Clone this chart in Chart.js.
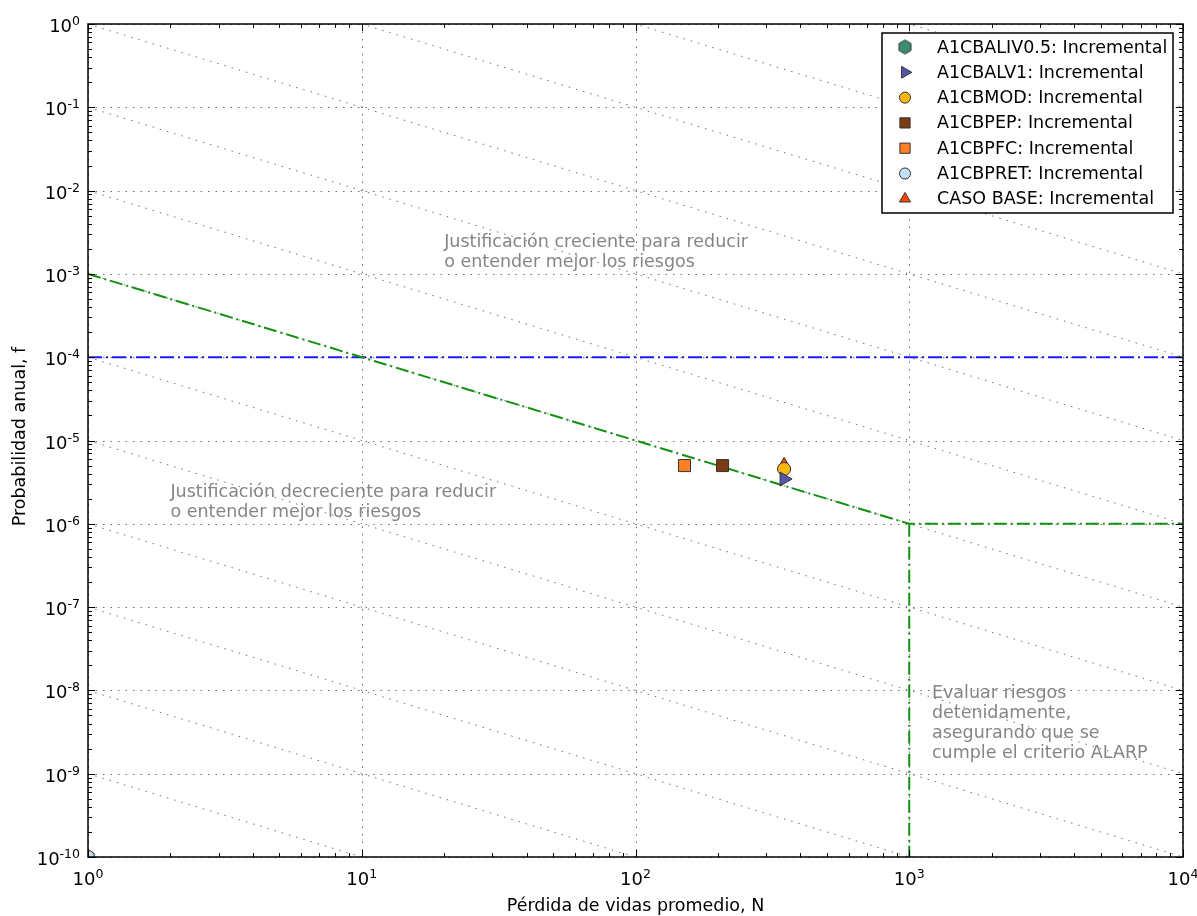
<!DOCTYPE html>
<html>
<head>
<meta charset="utf-8">
<script src="https://cdn.jsdelivr.net/npm/chart.js@4/dist/chart.umd.min.js"></script>
<style>
  html, body { margin: 0; padding: 0; background: #fff; }
</style>
</head>
<body>
<canvas id="fn_chart" width="1197" height="916"></canvas>
<script>
const FONT = "'DejaVu Sans', sans-serif";

// incremental results per alternative (N, f)
const seriesNames = [
  'A1CBALIV0.5: Incremental',
  'A1CBALV1: Incremental',
  'A1CBMOD: Incremental',
  'A1CBPEP: Incremental',
  'A1CBPFC: Incremental',
  'A1CBPRET: Incremental',
  'CASO BASE: Incremental'
];
const seriesN = [1, 349, 349, 208, 151, 1, 349];
const seriesF = [1e-10, 3.45e-6, 4.55e-6, 5e-6, 5e-6, 1e-10, 5.1e-6];
const seriesColors = ['#3c8c6e', '#5555aa', '#ffb60f', '#7b3c14', '#ff7f27', '#c6e0fa', '#ff4500'];
const seriesStyles = ['hexagon', 'triangle', 'circle', 'rect', 'rect', 'circle', 'triangle'];
const seriesRotation = [0, 90, 0, 0, 0, 0, 0];
const seriesRadius = [7, 8, 6.5, 8.5, 8.5, 6.5, 7.5];

// tolerability guidelines
const limitN = [1, 1000, 10000];
const limitF = [1e-3, 1e-6, 1e-6];
const alarpN = [1000, 1000];
const alarpF = [1e-6, 1e-10];
const bandN = [1, 10000];
const bandF = [1e-4, 1e-4];

// iso-risk lines f = C / N
const isoRisk = [1e-10, 1e-9, 1e-8, 1e-7, 1e-6, 1e-5, 1e-4, 1e-3, 1e-2, 1e-1, 1, 10, 100, 1000, 1e4];

// axes
const xTicks = [1, 10, 100, 1000, 10000];
const yTicks = [1, 1e-1, 1e-2, 1e-3, 1e-4, 1e-5, 1e-6, 1e-7, 1e-8, 1e-9, 1e-10];
const minorSteps = [2, 3, 4, 5, 6, 7, 8, 9];

const notes = [
  { n: 20, lines: ['Justificación creciente para reducir', 'o entender mejor los riesgos'], dy: 247 },
  { n: 2, lines: ['Justificación decreciente para reducir', 'o entender mejor los riesgos'], dy: 497 },
  { n: 1210, lines: ['Evaluar riesgos', 'detenidamente,', 'asegurando que se', 'cumple el criterio ALARP'], dy: 698 }
];

function hexagonMarker(fill, r) {
  const c = document.createElement('canvas');
  const s = Math.ceil(2 * r + 3);
  c.width = c.height = s;
  const g = c.getContext('2d');
  g.beginPath();
  for (let i = 0; i < 6; i++) {
    const a = -Math.PI / 2 + i * Math.PI / 3;
    const px = s / 2 + r * Math.cos(a), py = s / 2 + r * Math.sin(a);
    i ? g.lineTo(px, py) : g.moveTo(px, py);
  }
  g.closePath();
  g.fillStyle = fill;
  g.fill();
  g.lineWidth = 1;
  g.strokeStyle = '#333';
  g.stroke();
  return c;
}

const markerStyles = seriesStyles.map((s, i) => s === 'hexagon' ? hexagonMarker(seriesColors[i], seriesRadius[i]) : s);

const pointSets = seriesNames.map((name, i) => ({
  label: name,
  data: [{ x: seriesN[i], y: seriesF[i] }],
  pointStyle: markerStyles[i],
  rotation: seriesRotation[i],
  radius: seriesRadius[i],
  backgroundColor: seriesColors[i],
  borderColor: '#333',
  borderWidth: 1,
  clip: 0,
  order: i === 0 ? 5 : 0
}));

function guide(xs, ys, color, dash, width) {
  return {
    label: '',
    data: xs.map((v, i) => ({ x: v, y: ys[i] })),
    showLine: true,
    borderColor: color,
    borderWidth: width,
    borderDash: dash,
    pointRadius: 0,
    clip: 0,
    order: 10
  };
}

const lineSets = [
  guide(limitN, limitF, '#119011', [13, 4, 2, 4], 2),
  guide(alarpN, alarpF, '#119011', [13, 4, 2, 4], 2),
  guide(bandN, bandF, '#1a1aff', [14, 4, 2, 4], 2)
].concat(isoRisk.map(c => Object.assign(guide([1, 1e4], [c, c / 1e4], '#6f6f6f', [1.5, 6], 1), { order: 20 })));

function supLabel(ctx, exp, x, y, align) {
  const base = '10', sup = String(exp);
  ctx.font = '18px ' + FONT;
  const wb = ctx.measureText(base).width;
  ctx.font = '12.5px ' + FONT;
  const ws = ctx.measureText(sup).width;
  const left = align === 'right' ? x - wb - ws : x - (wb + ws) / 2;
  ctx.fillStyle = '#000';
  ctx.textAlign = 'left';
  ctx.textBaseline = 'alphabetic';
  ctx.font = '18px ' + FONT;
  ctx.fillText(base, left, y);
  ctx.font = '12.5px ' + FONT;
  ctx.fillText(sup, left + wb, y - 7);
}

const framePlugin = {
  id: 'frame',
  beforeDatasetsDraw(chart) {
    const { ctx, chartArea: a, scales: { x, y } } = chart;
    ctx.save();
    ctx.strokeStyle = '#6f6f6f';
    ctx.lineWidth = 1;
    ctx.setLineDash([1.5, 6]);
    ctx.beginPath();
    xTicks.forEach(v => {
      const px = Math.round(x.getPixelForValue(v)) + 0.5;
      ctx.moveTo(px, a.top); ctx.lineTo(px, a.bottom);
    });
    yTicks.forEach(v => {
      const py = Math.round(y.getPixelForValue(v)) + 0.5;
      ctx.moveTo(a.left, py); ctx.lineTo(a.right, py);
    });
    ctx.stroke();
    ctx.restore();
  },
  afterDraw(chart) {
    const { ctx, chartArea: a, scales: { x, y } } = chart;
    ctx.save();

    // text notes
    ctx.fillStyle = '#858585';
    ctx.font = '17.5px ' + FONT;
    ctx.textAlign = 'left';
    ctx.textBaseline = 'alphabetic';
    notes.forEach(n => {
      const px = x.getPixelForValue(n.n);
      n.lines.forEach((t, i) => ctx.fillText(t, px, n.dy + i * 20));
    });

    // ticks, inward on all four sides
    ctx.strokeStyle = '#000';
    ctx.lineWidth = 1;
    ctx.beginPath();
    xTicks.forEach((v, k) => {
      const steps = k < xTicks.length - 1 ? [1].concat(minorSteps) : [1];
      steps.forEach(m => {
        const px = Math.round(x.getPixelForValue(v * m)) + 0.5;
        const len = m === 1 ? 7 : 4;
        ctx.moveTo(px, a.bottom); ctx.lineTo(px, a.bottom - len);
        ctx.moveTo(px, a.top); ctx.lineTo(px, a.top + len);
      });
    });
    yTicks.forEach((v, k) => {
      const steps = k < yTicks.length - 1 ? [1].concat(minorSteps.map(m => m / 10)) : [1];
      steps.forEach(m => {
        const py = Math.round(y.getPixelForValue(v * m)) + 0.5;
        const len = m === 1 ? 7 : 4;
        ctx.moveTo(a.left, py); ctx.lineTo(a.left + len, py);
        ctx.moveTo(a.right, py); ctx.lineTo(a.right - len, py);
      });
    });
    ctx.stroke();

    // frame
    ctx.lineWidth = 1.5;
    ctx.strokeRect(a.left, a.top, a.right - a.left, a.bottom - a.top);

    // tick labels
    xTicks.forEach(v => supLabel(ctx, Math.round(Math.log10(v)), x.getPixelForValue(v), a.bottom + 28, 'center'));
    yTicks.forEach(v => supLabel(ctx, Math.round(Math.log10(v)), a.left - 8, y.getPixelForValue(v) + 8, 'right'));

    // axis titles
    ctx.fillStyle = '#000';
    ctx.font = '17.5px ' + FONT;
    ctx.textAlign = 'center';
    ctx.textBaseline = 'alphabetic';
    ctx.fillText('Pérdida de vidas promedio, N', (a.left + a.right) / 2, 911);
    ctx.save();
    ctx.translate(25, (a.top + a.bottom) / 2 - 4);
    ctx.rotate(-Math.PI / 2);
    ctx.fillText('Probabilidad anual, f', 0, 0);
    ctx.restore();

    // legend
    const lx = 882, ly = 33, lw = 291, lh = 180;
    ctx.fillStyle = '#fff';
    ctx.fillRect(lx, ly, lw, lh);
    ctx.lineWidth = 1.5;
    ctx.strokeStyle = '#000';
    ctx.strokeRect(lx, ly, lw, lh);
    seriesNames.forEach((name, i) => {
      const ry = ly + 14 + i * 25.3;
      ctx.fillStyle = seriesColors[i];
      ctx.strokeStyle = '#333';
      ctx.lineWidth = 1;
      Chart.helpers.drawPoint(ctx, {
        pointStyle: markerStyles[i],
        rotation: seriesRotation[i],
        radius: seriesRadius[i] * 0.85,
        borderWidth: 1
      }, lx + 23, ry);
      ctx.fillStyle = '#000';
      ctx.font = '17.5px ' + FONT;
      ctx.textAlign = 'left';
      ctx.textBaseline = 'middle';
      ctx.fillText(name, lx + 55, ry + 1);
    });
    ctx.restore();
  }
};

new Chart(document.getElementById('fn_chart').getContext('2d'), {
  type: 'scatter',
  data: { datasets: pointSets.concat(lineSets) },
  options: {
    responsive: false,
    animation: false,
    layout: { padding: { left: 88, top: 24, right: 14, bottom: 59 } },
    scales: {
      x: {
        type: 'logarithmic', min: 1, max: 1e4,
        ticks: { display: false },
        grid: { display: false },
        border: { display: false },
        afterFit(s) { s.height = 0; }
      },
      y: {
        type: 'logarithmic', min: 1e-10, max: 1,
        ticks: { display: false },
        grid: { display: false },
        border: { display: false },
        afterFit(s) { s.width = 0; }
      }
    },
    plugins: {
      legend: { display: false },
      tooltip: { enabled: false }
    }
  },
  plugins: [framePlugin]
});
</script>
</body>
</html>
